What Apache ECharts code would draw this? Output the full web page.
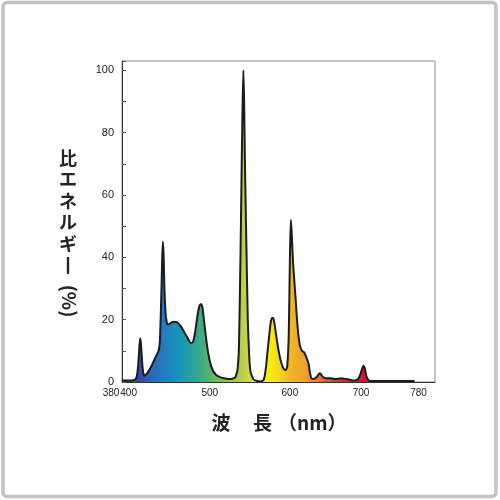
<!DOCTYPE html>
<html>
<head>
<meta charset="utf-8">
<script src="https://cdn.jsdelivr.net/npm/echarts@6/dist/echarts.min.js"></script>
<style>html,body{margin:0;padding:0;background:#fff}#c{width:500px;height:500px}</style>
</head>
<body>
<div id="c"></div>
<script>
const wavelengths = [380,385,390,395,398,400,402,404,405,406,408,410,412,415,420,425,430,432,434,435,436,437,438,440,442,444,447,450,455,460,465,470,474,477,480,483,486,488,490,492,495,498,502,506,510,515,520,525,530,535,538,540,542,544,545,546,547,548,550,552,554,556,560,565,570,574,577,580,583,585,587,589,592,595,598,601,604,606,608,609,610,611,612,614,617,620,623,626,629,632,635,637,639,642,646,650,652,654,657,660,665,670,675,680,685,690,695,700,703,706,708,710,712,714,717,720,730,740,750,760,770,780];
const energy = [0.5,0.5,0.5,0.6,0.8,1.5,5,12,14,12,5,2,2.2,3,5,7.5,10,14,30,40,45,40,30,21,18.5,18.5,19,19.3,19.2,18,16,14,12.5,12.8,16,21,24.5,25,24,20,14,9,5,3,2,1.5,1.2,1,1,1.5,4,12,40,75,90,100,90,72,45,20,8,3,0.8,0.3,0.2,0.8,5,12,18.5,20.5,20.5,18,13,9,6,4.2,3.8,5,15,30,45,52,48,38,28,18,12,10,9.5,8,6,3,1.2,1,1.5,2.8,2.5,1.8,1.3,1.2,1.2,1,1,1.2,1,0.8,0.5,0.6,1,2.5,4,5.2,4.5,2,0.6,0.3,0.3,0.3,0.3,0.3,0.3,0.3];
const xTickLabels = [380,400,500,600,700,780];
const yTickLabels = [0,20,40,60,80,100];

const chart = echarts.init(document.getElementById('c'));
const X0 = 380, X1 = 780;
const stops = [
  [380,'#2a3a8c'],[405,'#3a48a8'],[420,'#2a68b8'],[440,'#1f7fc0'],[460,'#1896b8'],
  [480,'#2ea696'],[495,'#4cb072'],[515,'#7cbc58'],[546,'#bcd04a'],[565,'#e6e630'],
  [580,'#f8f010'],[595,'#f6d818'],[610,'#f0b820'],[630,'#eca028'],[650,'#e6782e'],
  [670,'#cc4a30'],[690,'#c02a30'],[710,'#e0103e'],[740,'#b01830'],[780,'#801020']
].map(s => ({offset:(s[0]-X0)/(X1-X0), color:s[1]}));

const labFont = {fontFamily:"'Liberation Sans Narrow','Liberation Sans',sans-serif", fontSize:11, color:'#222'};
const xFont = {fontFamily:"'Liberation Sans Narrow','Liberation Sans',sans-serif", fontSize:10, color:'#222'};
const shifts = {380:[0,22,0,0],400:[0,16,0,0],500:[0,0,0,0],600:[0,0,0,14],700:[0,0,0,10],780:[0,0,0,8]};
const rich = {};
xTickLabels.forEach(v => { rich['l'+v] = Object.assign({padding:shifts[v]}, xFont); });
const fmt = v => '{l'+v+'|'+v+'}';

chart.setOption({
  animation:false,
  backgroundColor:'#fff',
  grid:{left:122, top:61, right:65, bottom:118, show:true, borderColor:'#8a8a8a', borderWidth:1},
  xAxis:[{
    type:'value', min:380, max:808, position:'bottom',
    axisLine:{show:true, lineStyle:{color:'#333', width:1}},
    axisTick:{show:false},
    splitLine:{show:false},
    axisLabel:{customValues:xTickLabels.slice(1), margin:6, hideOverlap:false, formatter:fmt, rich:rich}
  },{
    type:'value', min:380, max:808, position:'bottom', offset:0,
    axisLine:{show:false}, axisTick:{show:false}, splitLine:{show:false},
    axisLabel:{customValues:xTickLabels.slice(0,1), showMinLabel:true, margin:6, formatter:fmt, rich:rich}
  }],
  yAxis:{
    type:'value', min:0, max:103, interval:10,
    axisLine:{show:true, lineStyle:{color:'#333', width:1}},
    axisTick:{show:true, inside:true, length:4, lineStyle:{color:'#555'}},
    splitLine:{show:false},
    axisLabel:Object.assign({margin:8, formatter:v => yTickLabels.indexOf(v) >= 0 ? String(v) : ''}, labFont)
  },
  graphic:[
    {type:'rect', shape:{x:3, y:2.5, width:493, height:494, r:4}, style:{fill:'none', stroke:'#c2c2c2', lineWidth:3.5}, silent:true},
    {type:'text', x:68, y:147, style:{text:'比\nエ\nネ\nル\nギ\n丨', align:'center', verticalAlign:'top', font:"bold 18px 'Noto Sans CJK JP'", lineHeight:21.5, fill:'#222'}},
    {type:'text', x:69, y:301, rotation:-Math.PI/2, style:{text:'(%)', align:'center', verticalAlign:'middle', font:"bold 19px 'Noto Sans CJK JP'", fill:'#222'}},
    {type:'text', x:221, y:423, style:{text:'波', align:'center', verticalAlign:'middle', font:"bold 19px 'Noto Sans CJK JP'", fill:'#222'}},
    {type:'text', x:262.5, y:423, style:{text:'長', align:'center', verticalAlign:'middle', font:"bold 19px 'Noto Sans CJK JP'", fill:'#222'}},
    {type:'text', x:278, y:423, style:{text:'（nm）', align:'left', verticalAlign:'middle', font:"bold 19px 'Noto Sans CJK JP'", fill:'#222'}}
  ],
  series:[{
    type:'line', xAxisIndex:0,
    data:wavelengths.map((w,i) => [w, energy[i]]),
    showSymbol:false,
    smooth:0.15,
    lineStyle:{color:'#1c1c1c', width:2},
    areaStyle:{opacity:1, color:new echarts.graphic.LinearGradient(0,0,1,0,stops)}
  }]
});
</script>
</body>
</html>
